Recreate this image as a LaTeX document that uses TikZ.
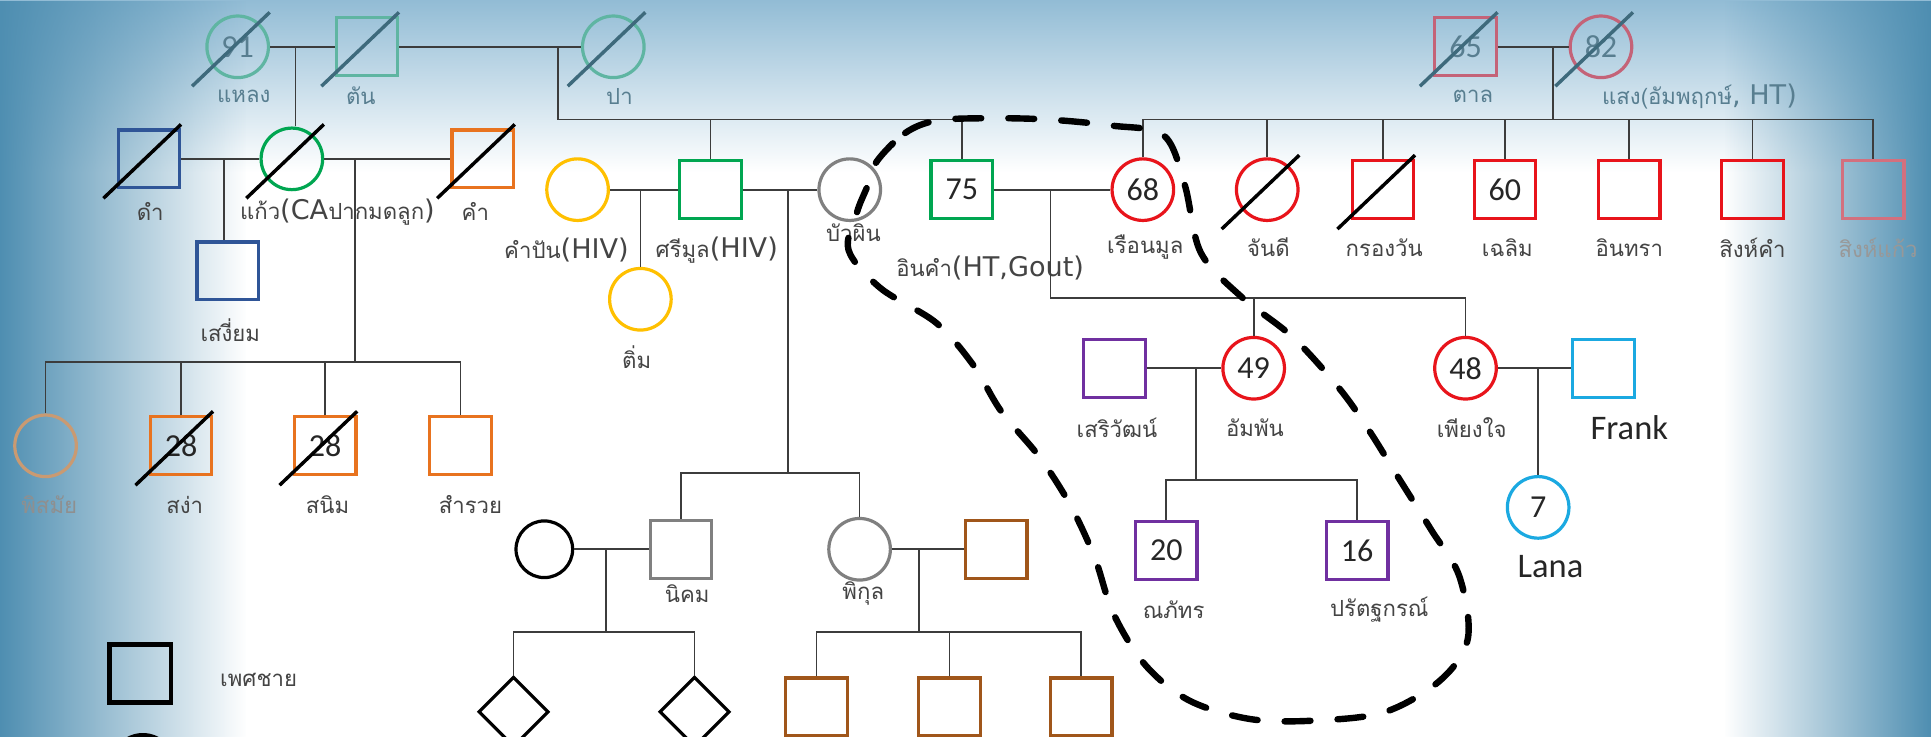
\documentclass[tikz,border=0pt]{standalone}
\usepackage{fontspec}
\setmainfont{Carlito}
\newfontfamily\thaifont[Script=Thai]{Loma}
\newfontfamily\latfont{Carlito}
\newfontfamily\labfont{DejaVu Sans}
\usetikzlibrary{calc,fadings,shapes.geometric}
\definecolor{cBlue}{HTML}{2F5597}
\definecolor{cGreen}{HTML}{00A651}
\definecolor{cOrange}{HTML}{E8731F}
\definecolor{cYellow}{HTML}{FFC000}
\definecolor{cGray}{HTML}{808080}
\definecolor{cRed}{HTML}{E8141B}
\definecolor{cRedF}{HTML}{D3707E}
\definecolor{cPurple}{HTML}{7030A0}
\definecolor{cSky}{HTML}{1BA9E1}
\definecolor{cBrown}{HTML}{A0561A}
\definecolor{cTan}{HTML}{C99A72}
\definecolor{cTeal}{HTML}{5FB5A2}
\definecolor{cPink}{HTML}{C46378}
\definecolor{cSlashF}{HTML}{3E6A7C}
\definecolor{cFadeTxt}{HTML}{587E90}
\definecolor{cLine}{HTML}{3C3C3C}
\definecolor{cTxt}{HTML}{444444}
\definecolor{bgEdge}{HTML}{4E8EB1}
\definecolor{bgTop}{HTML}{92BCD5}
\newcommand\latp[1]{{\labfont\fontsize{22}{22}\selectfont #1}}
\newcommand\slashit[2][black]{\draw[line width=2.8pt,#1] ($(#2.center)+(-37,32)$) -- ($(#2.center)+(26,-28)$);}
\tikzset{
  person/.style={draw, line width=2.6pt, inner sep=0pt, font=\latfont\fontsize{26}{26}\selectfont, text=black!85},
  male/.style={person, rectangle, minimum width=50pt, minimum height=47pt},
  female/.style={person, circle, minimum size=50pt},
  unk/.style={person, diamond, minimum size=57pt, draw=black},
  lbl/.style={font=\thaifont\fontsize{18}{20}\selectfont, text=cTxt, inner sep=0pt},
  toplbl/.style={lbl, text=cFadeTxt},
  eng/.style={font=\latfont\fontsize{28}{28}\selectfont, text=black!85, inner sep=0pt},
  link/.style={draw=cLine, line width=1.4pt},
  hoop/.style={line width=5.2pt, dash pattern=on 21pt off 22pt, line cap=round},
}
\begin{document}
\begin{tikzpicture}[x=1pt,y=-1pt]
\useasboundingbox (0,0) rectangle (1568,598);
\clip (0,0) rectangle (1568,598);
% background vignette
\fill[white] (0,0) rectangle (1568,598);
\shade[top color=bgTop, bottom color=white] (0,0) rectangle (1568,140);
\fill[bgEdge, path fading=east] (0,0) rectangle (200,598);
\fill[bgEdge, path fading=west] (1400,0) rectangle (1568,598);

% generation 1
\node[female, draw=cTeal, text=cFadeTxt] (haelong) at (193,38) {91};
\node[male, draw=cTeal] (tan) at (298,38) {};
\node[female, draw=cTeal] (pa) at (498,38) {};
\node[male, draw=cPink, text=cFadeTxt] (taan) at (1190,38) {65};
\node[female, draw=cPink, text=cFadeTxt] (saeng) at (1300,38) {82};
\node[toplbl] (lhaelong) at (198,78) {แหลง};
\node[toplbl] (ltan) at (293,78) {ตัน};
\node[toplbl] (lpa) at (503,78) {ปา};
\node[toplbl] (ltaan) at (1196,78) {ตาล};
\node[toplbl] (lsaeng) at (1380,78) {แสง(อัมพฤกษ์\latp{, HT)}};

% generation 2 left
\node[male, draw=cBlue] (dam) at (121,129) {};
\node[female, draw=cGreen] (kaew) at (237,129) {};
\node[male, draw=cOrange] (kham) at (392,129) {};
\node[male, draw=cBlue] (sangiam) at (185,220) {};
\node[lbl] (ldam) at (122,172) {ดำ};
\node[lbl] (lkaew) at (274,172) {แก้ว\latp{(CA}ปากมดลูก\latp{)}};
\node[lbl] (lkham) at (386,172) {คำ};
\node[lbl] (lsangiam) at (187,268) {เสงี่ยม};

% generation 3 left
\node[female, draw=cTan] (pisamai) at (37,362) {};
\node[male, draw=cOrange] (sanga) at (147,362) {28};
\node[male, draw=cOrange] (sanim) at (264,362) {28};
\node[male, draw=cOrange] (samruay) at (374,362) {};
\node[lbl, text=cTxt!60] (lpisamai) at (40,410) {พิสมัย};
\node[lbl] (lsanga) at (150,410) {สง่า};
\node[lbl] (lsanim) at (266,410) {สนิม};
\node[lbl] (lsamruay) at (382,410) {สำรวย};

% generation 2 middle
\node[female, draw=cYellow] (khampan) at (469,154) {};
\node[male, draw=cGreen] (srimoon) at (577,154) {};
\node[female, draw=cYellow] (tim) at (520,243) {};
\node[female, draw=cGray] (buaphin) at (690,154) {};
\node[male, draw=cGreen] (inkham) at (781,154) {75};
\node[female, draw=cRed] (ruanmoon) at (928,154) {68};
\node[lbl] (lkhampan) at (460,203) {คำปัน\latp{(HIV)}};
\node[lbl] (lsrimoon) at (582,203) {ศรีมูล\latp{(HIV)}};
\node[lbl] (ltim) at (517,290) {ติ่ม};
\node[lbl] (lbuaphin) at (693,189) {บัวผิน};
\node[lbl] (linkham) at (804,218) {อินคำ\latp{(HT,Gout)}};
\node[lbl] (lruanmoon) at (930,201) {เรือนมูล};

% generation 2 right
\node[female, draw=cRed] (chandi) at (1029,154) {};
\node[male, draw=cRed] (krongwan) at (1123,154) {};
\node[male, draw=cRed] (chaloem) at (1222,154) {60};
\node[male, draw=cRed] (inthra) at (1323,154) {};
\node[male, draw=cRed] (singkham) at (1423,154) {};
\node[male, draw=cRedF] (singkaew) at (1521,154) {};
\node[lbl] (lchandi) at (1030,201) {จันดี};
\node[lbl] (lkrongwan) at (1124,201) {กรองวัน};
\node[lbl] (lchaloem) at (1224,201) {เฉลิม};
\node[lbl] (linthra) at (1323,201) {อินทรา};
\node[lbl] (lsingkham) at (1423,201) {สิงห์คำ};
\node[lbl, text=cTxt!55] (lsingkaew) at (1525,201) {สิงห์แก้ว};

% generation 3 middle
\node[female, draw=black, minimum size=46pt] (wifen) at (442,446) {};
\node[male, draw=cGray] (nikhom) at (553,446) {};
\node[female, draw=cGray] (pikul) at (698,446) {};
\node[male, draw=cBrown] (husbp) at (809,446) {};
\node[lbl] (lnikhom) at (558,482) {นิคม};
\node[lbl] (lpikul) at (701,482) {พิกุล};
\node[unk] (dia1) at (417,578) {};
\node[unk] (dia2) at (564,578) {};
\node[male, draw=cBrown] (bk1) at (663,574) {};
\node[male, draw=cBrown] (bk2) at (771,574) {};
\node[male, draw=cBrown] (bk3) at (878,574) {};

% generation 3 right
\node[male, draw=cPurple] (seriwat) at (905,299) {};
\node[female, draw=cRed] (amphan) at (1018,299) {49};
\node[female, draw=cRed] (phiangjai) at (1190,299) {48};
\node[male, draw=cSky] (frank) at (1302,299) {};
\node[male, draw=cPurple] (napat) at (947,447) {20};
\node[male, draw=cPurple] (parat) at (1102,447) {16};
\node[female, draw=cSky] (lana) at (1249,412) {7};
\node[lbl] (lseriwat) at (907,347) {เสริวัฒน์};
\node[lbl] (lamphan) at (1019,347) {อัมพัน};
\node[lbl] (lphiangjai) at (1195,347) {เพียงใจ};
\node[eng] (lfrank) at (1323,347) {Frank};
\node[lbl] (lnapat) at (953,495) {ณภัทร};
\node[lbl] (lparat) at (1120,495) {ปรัตฐกรณ์};
\node[eng] (llana) at (1259,460) {Lana};

% legend
\node[male, draw=black, line width=3.6pt] (legm) at (114,547) {};
\node[lbl] (llegm) at (210,552) {เพศชาย};
\node[female, draw=black, line width=3.6pt] (legf) at (116,622) {};

% connectors
\draw[link] (haelong) -- (tan);
\draw[link] (tan) -- (pa);
\coordinate (jA) at (240,38);
\draw[link] (jA) -- (jA |- kaew.north);
\coordinate (jB) at (453,38);
\coordinate (sB) at (453,97);
\draw[link] (jB) -- (sB) -| (inkham.north);
\draw[link] (srimoon.north) -- (srimoon.north |- sB);

\draw[link] (dam) -- (kaew);
\draw[link] (kaew) -- (kham);
\coordinate (jC) at (182,129);
\draw[link] (jC) -- (jC |- sangiam.north);
\coordinate (jD) at (288,129);
\coordinate (sD) at (288,294);
\draw[link] (jD) -- (sD);
\draw[link] (pisamai.north) -- (pisamai.north |- sD) -- (samruay.north |- sD) -- (samruay.north);
\draw[link] (sanga.north) -- (sanga.north |- sD);
\draw[link] (sanim.north) -- (sanim.north |- sD);

\draw[link] (khampan) -- (srimoon);
\draw[link] (srimoon) -- (buaphin);
\coordinate (jE) at (520,154);
\draw[link] (jE) -- (tim.north);
\coordinate (jF) at (640,154);
\coordinate (sF) at (640,384);
\draw[link] (jF) -- (sF);
\draw[link] (nikhom.north) -- (nikhom.north |- sF) -- (pikul.north |- sF) -- (pikul.north);

\draw[link] (inkham) -- (ruanmoon);
\coordinate (jG) at (853,154);
\coordinate (sG) at (853,242);
\draw[link] (jG) -- (sG) -| (phiangjai.north);
\draw[link] (amphan.north) -- (amphan.north |- sG);

\draw[link] (taan) -- (saeng);
\coordinate (jH) at (1261,38);
\coordinate (sH) at (1261,97);
\draw[link] (jH) -- (sH);
\draw[link] (ruanmoon.north) -- (ruanmoon.north |- sH) -- (singkaew.north |- sH) -- (singkaew.north);
\foreach \n in {chandi,krongwan,chaloem,inthra,singkham} \draw[link] (\n.north) -- (\n.north |- sH);

\draw[link] (seriwat) -- (amphan);
\coordinate (jI) at (971,299);
\coordinate (sI) at (971,390);
\draw[link] (jI) -- (sI);
\draw[link] (napat.north) -- (napat.north |- sI) -- (parat.north |- sI) -- (parat.north);

\draw[link] (phiangjai) -- (frank);
\coordinate (jJ) at (1249,299);
\draw[link] (jJ) -- (lana.north);

\draw[link] (wifen) -- (nikhom);
\coordinate (jK) at (492,446);
\coordinate (sK) at (492,513);
\draw[link] (jK) -- (sK);
\draw[link] (dia1.north) -- (dia1.north |- sK) -- (dia2.north |- sK) -- (dia2.north);

\draw[link] (pikul) -- (husbp);
\coordinate (jL) at (746,446);
\coordinate (sL) at (746,513);
\draw[link] (jL) -- (sL);
\draw[link] (bk1.north) -- (bk1.north |- sL) -- (bk3.north |- sL) -- (bk3.north);
\draw[link] (bk2.north) -- (bk2.north |- sL);

% deceased slashes
\foreach \n in {haelong,tan,pa,taan,saeng} {\slashit[cSlashF]{\n}}
\foreach \n in {dam,kaew,kham,sanga,sanim,chandi,krongwan} {\slashit{\n}}

% hand-drawn dashed loop
\draw[hoop] plot[smooth cycle, tension=0.55] coordinates {
 (712,131) (735,108) (760,98) (800,96) (850,97) (903,102) (945,110)
 (962,150) (975,205) (1008,241) (1050,274) (1088,316) (1112,350)
 (1135,387) (1162,430) (1185,468) (1192,518) (1170,552) (1125,578)
 (1070,585) (1016,584) (966,569) (930,540) (904,498) (889,453)
 (869,410) (844,371) (813,334) (790,296) (760,262) (715,234)
 (689,203) (696,172) (704,152)};
\end{tikzpicture}
\end{document}
